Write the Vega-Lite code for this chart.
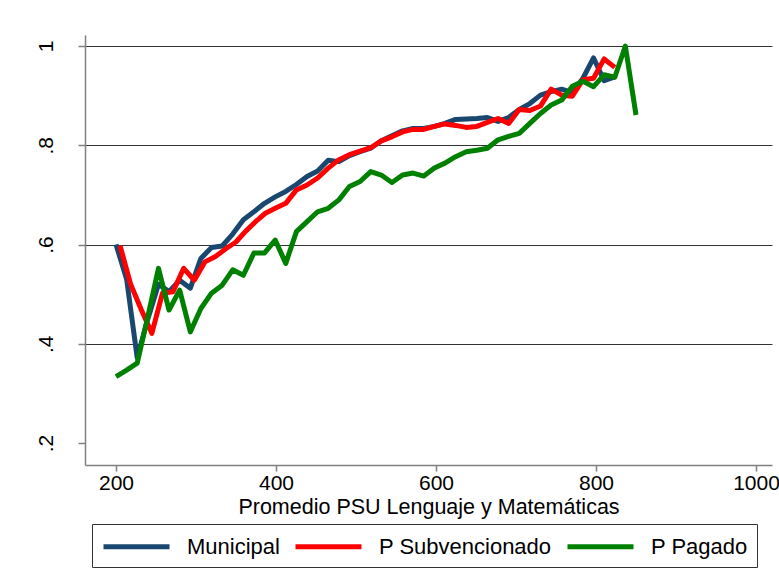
{
  "$schema": "https://vega.github.io/schema/vega-lite/v6.json",
  "width": 687,
  "height": 430,
  "autosize": {"type": "none"},
  "padding": {"left": 85, "top": 35, "right": 7, "bottom": 120},
  "background": "white",
  "config": {"view": {"stroke": null}, "font": "Liberation Sans"},
  "data": {"values": [
    {"s":"Municipal","x":200,"y":0.600},{"s":"Municipal","x":213.3,"y":0.530},{"s":"Municipal","x":226.5,"y":0.372},{"s":"Municipal","x":239.8,"y":0.450},{"s":"Municipal","x":253.1,"y":0.520},{"s":"Municipal","x":266.3,"y":0.505},{"s":"Municipal","x":279.6,"y":0.528},{"s":"Municipal","x":292.9,"y":0.512},{"s":"Municipal","x":306.1,"y":0.572},{"s":"Municipal","x":319.4,"y":0.594},
    {"s":"Municipal","x":332.7,"y":0.597},{"s":"Municipal","x":345.9,"y":0.621},{"s":"Municipal","x":359.2,"y":0.650},{"s":"Municipal","x":372.4,"y":0.666},{"s":"Municipal","x":385.7,"y":0.683},{"s":"Municipal","x":399.0,"y":0.696},{"s":"Municipal","x":412.2,"y":0.707},{"s":"Municipal","x":425.5,"y":0.721},{"s":"Municipal","x":438.8,"y":0.737},{"s":"Municipal","x":452.0,"y":0.748},
    {"s":"Municipal","x":465.3,"y":0.770},{"s":"Municipal","x":478.6,"y":0.767},{"s":"Municipal","x":491.8,"y":0.779},{"s":"Municipal","x":505.1,"y":0.787},{"s":"Municipal","x":518.4,"y":0.794},{"s":"Municipal","x":531.6,"y":0.809},{"s":"Municipal","x":544.9,"y":0.819},{"s":"Municipal","x":558.2,"y":0.829},{"s":"Municipal","x":571.4,"y":0.834},{"s":"Municipal","x":584.7,"y":0.834},
    {"s":"Municipal","x":598.0,"y":0.838},{"s":"Municipal","x":611.2,"y":0.844},{"s":"Municipal","x":624.5,"y":0.852},{"s":"Municipal","x":637.8,"y":0.853},{"s":"Municipal","x":651.0,"y":0.854},{"s":"Municipal","x":664.3,"y":0.856},{"s":"Municipal","x":677.6,"y":0.848},{"s":"Municipal","x":690.8,"y":0.856},{"s":"Municipal","x":704.1,"y":0.872},{"s":"Municipal","x":717.3,"y":0.884},
    {"s":"Municipal","x":730.6,"y":0.901},{"s":"Municipal","x":743.9,"y":0.908},{"s":"Municipal","x":757.1,"y":0.913},{"s":"Municipal","x":770.4,"y":0.906},{"s":"Municipal","x":783.7,"y":0.935},{"s":"Municipal","x":796.9,"y":0.976},{"s":"Municipal","x":810.2,"y":0.930},{"s":"Municipal","x":823.5,"y":0.938},

    {"s":"P Subvencionado","x":205,"y":0.598},{"s":"P Subvencionado","x":218.3,"y":0.520},{"s":"P Subvencionado","x":231.5,"y":0.469},{"s":"P Subvencionado","x":244.8,"y":0.421},{"s":"P Subvencionado","x":258.1,"y":0.502},{"s":"P Subvencionado","x":271.3,"y":0.505},{"s":"P Subvencionado","x":284.6,"y":0.552},{"s":"P Subvencionado","x":297.9,"y":0.528},{"s":"P Subvencionado","x":311.1,"y":0.565},{"s":"P Subvencionado","x":324.4,"y":0.576},
    {"s":"P Subvencionado","x":337.7,"y":0.592},{"s":"P Subvencionado","x":349.9,"y":0.605},{"s":"P Subvencionado","x":362.2,"y":0.627},{"s":"P Subvencionado","x":374.4,"y":0.646},{"s":"P Subvencionado","x":386.7,"y":0.663},{"s":"P Subvencionado","x":399.0,"y":0.673},{"s":"P Subvencionado","x":412.2,"y":0.683},{"s":"P Subvencionado","x":425.5,"y":0.710},{"s":"P Subvencionado","x":438.8,"y":0.720},{"s":"P Subvencionado","x":452.0,"y":0.734},
    {"s":"P Subvencionado","x":465.3,"y":0.754},{"s":"P Subvencionado","x":478.6,"y":0.771},{"s":"P Subvencionado","x":491.8,"y":0.781},{"s":"P Subvencionado","x":505.1,"y":0.788},{"s":"P Subvencionado","x":518.4,"y":0.795},{"s":"P Subvencionado","x":531.6,"y":0.809},{"s":"P Subvencionado","x":544.9,"y":0.817},{"s":"P Subvencionado","x":558.2,"y":0.827},{"s":"P Subvencionado","x":571.4,"y":0.832},{"s":"P Subvencionado","x":584.7,"y":0.832},
    {"s":"P Subvencionado","x":598.0,"y":0.838},{"s":"P Subvencionado","x":611.2,"y":0.843},{"s":"P Subvencionado","x":624.5,"y":0.840},{"s":"P Subvencionado","x":637.8,"y":0.836},{"s":"P Subvencionado","x":651.0,"y":0.838},{"s":"P Subvencionado","x":664.3,"y":0.846},{"s":"P Subvencionado","x":677.6,"y":0.854},{"s":"P Subvencionado","x":690.8,"y":0.844},{"s":"P Subvencionado","x":704.1,"y":0.872},{"s":"P Subvencionado","x":717.3,"y":0.870},
    {"s":"P Subvencionado","x":730.6,"y":0.879},{"s":"P Subvencionado","x":743.9,"y":0.913},{"s":"P Subvencionado","x":757.1,"y":0.901},{"s":"P Subvencionado","x":770.4,"y":0.899},{"s":"P Subvencionado","x":783.7,"y":0.932},{"s":"P Subvencionado","x":796.9,"y":0.935},{"s":"P Subvencionado","x":810.2,"y":0.974},{"s":"P Subvencionado","x":823.5,"y":0.957},

    {"s":"P Pagado","x":200,"y":0.334},{"s":"P Pagado","x":213.3,"y":0.347},{"s":"P Pagado","x":226.5,"y":0.361},{"s":"P Pagado","x":239.8,"y":0.455},{"s":"P Pagado","x":253.1,"y":0.552},{"s":"P Pagado","x":266.3,"y":0.468},{"s":"P Pagado","x":279.6,"y":0.508},{"s":"P Pagado","x":292.9,"y":0.424},{"s":"P Pagado","x":306.1,"y":0.471},{"s":"P Pagado","x":319.4,"y":0.502},
    {"s":"P Pagado","x":332.7,"y":0.518},{"s":"P Pagado","x":345.9,"y":0.549},{"s":"P Pagado","x":359.2,"y":0.538},{"s":"P Pagado","x":372.4,"y":0.583},{"s":"P Pagado","x":385.7,"y":0.583},{"s":"P Pagado","x":399.0,"y":0.609},{"s":"P Pagado","x":412.2,"y":0.562},{"s":"P Pagado","x":425.5,"y":0.626},{"s":"P Pagado","x":438.8,"y":0.646},{"s":"P Pagado","x":452.0,"y":0.666},
    {"s":"P Pagado","x":465.3,"y":0.673},{"s":"P Pagado","x":478.6,"y":0.690},{"s":"P Pagado","x":491.8,"y":0.717},{"s":"P Pagado","x":505.1,"y":0.727},{"s":"P Pagado","x":518.4,"y":0.747},{"s":"P Pagado","x":531.6,"y":0.740},{"s":"P Pagado","x":544.9,"y":0.725},{"s":"P Pagado","x":558.2,"y":0.740},{"s":"P Pagado","x":571.4,"y":0.744},{"s":"P Pagado","x":584.7,"y":0.738},
    {"s":"P Pagado","x":598.0,"y":0.754},{"s":"P Pagado","x":611.2,"y":0.764},{"s":"P Pagado","x":624.5,"y":0.777},{"s":"P Pagado","x":637.8,"y":0.787},{"s":"P Pagado","x":651.0,"y":0.790},{"s":"P Pagado","x":664.3,"y":0.794},{"s":"P Pagado","x":677.6,"y":0.811},{"s":"P Pagado","x":690.8,"y":0.818},{"s":"P Pagado","x":704.1,"y":0.824},{"s":"P Pagado","x":717.3,"y":0.844},
    {"s":"P Pagado","x":730.6,"y":0.864},{"s":"P Pagado","x":743.9,"y":0.881},{"s":"P Pagado","x":757.1,"y":0.891},{"s":"P Pagado","x":770.4,"y":0.919},{"s":"P Pagado","x":783.7,"y":0.929},{"s":"P Pagado","x":796.9,"y":0.918},{"s":"P Pagado","x":810.2,"y":0.942},{"s":"P Pagado","x":823.5,"y":0.937},{"s":"P Pagado","x":836.7,"y":1.000},{"s":"P Pagado","x":850.0,"y":0.861}
  ]},
  "mark": {"type": "line", "strokeWidth": 5, "strokeJoin": "round", "clip": true},
  "encoding": {
    "x": {
      "field": "x", "type": "quantitative",
      "scale": {"domain": [161.25, 1020], "nice": false, "zero": false},
      "axis": {
        "values": [200, 400, 600, 800, 1000],
        "format": "d",
        "grid": false,
        "domainColor": "#808080", "domainWidth": 1.5,
        "tickColor": "#808080", "tickWidth": 1.5, "tickSize": 6,
        "labelFontSize": 21, "labelColor": "black", "labelPadding": 1, "labelFlush": false, "labelOverlap": false,
        "title": "Promedio PSU Lenguaje y Matemáticas",
        "titleFontSize": 21.5, "titleFontWeight": "normal", "titleColor": "black", "titlePadding": 3
      }
    },
    "y": {
      "field": "y", "type": "quantitative",
      "scale": {"domain": [0.1557, 1.0222], "nice": false, "zero": false},
      "axis": {
        "values": [0.2, 0.4, 0.6, 0.8, 1],
        "labelExpr": "datum.value >= 0.99 ? '1' : replace(format(datum.value, '.1f'), '0.', '.')",
        "labelAngle": 270,
        "labelFontSize": 21, "labelColor": "black", "labelPadding": 22,
        "grid": true, "gridColor": "#333333", "gridWidth": 1,
        "gridOpacity": {"expr": "datum.value < 0.3 ? 0 : 1"},
        "domainColor": "#808080", "domainWidth": 1.5,
        "tickColor": "#808080", "tickWidth": 1.5, "tickSize": 7,
        "title": null
      }
    },
    "color": {
      "field": "s", "type": "nominal",
      "scale": {"domain": ["Municipal", "P Subvencionado", "P Pagado"], "range": ["#1a476f", "#ff0000", "#008000"]},
      "legend": {
        "title": null,
        "orient": "none", "legendX": 7, "legendY": 489,
        "direction": "horizontal", "columns": 3,
        "symbolType": "M-1,0H5", "symbolSize": 484, "symbolStrokeWidth": 5,
        "labelFontSize": 22, "labelColor": "black", "labelOffset": 59, "labelLimit": 400,
        "columnPadding": 5,
        "padding": 9,
        "strokeColor": "#333333", "cornerRadius": 0, "fillColor": "white"
      }
    }
  }
}
